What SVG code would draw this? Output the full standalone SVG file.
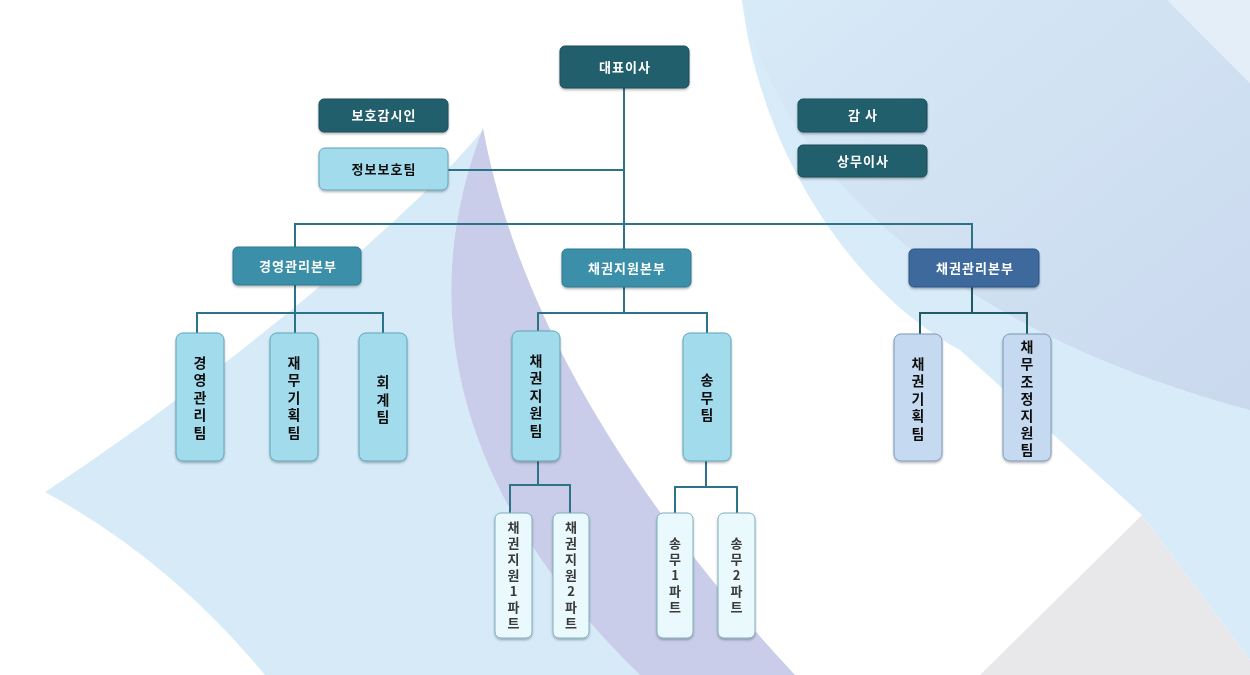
<svg xmlns="http://www.w3.org/2000/svg" width="1250" height="675" viewBox="0 0 1250 675">
  <defs>
    <linearGradient id="gS1" x1="0" y1="0" x2="1" y2="1">
      <stop offset="0" stop-color="#d7eaf7"/>
      <stop offset="1" stop-color="#cad8ee"/>
    </linearGradient>
    <filter id="sh" x="-20%" y="-20%" width="140%" height="140%">
      <feDropShadow dx="0" dy="1.5" stdDeviation="1" flood-color="#000" flood-opacity="0.3"/>
    </filter>
  </defs>
  <style>
    .dark{fill:#245e6c;stroke:#1c4d59;stroke-width:1}
    .mid{fill:#3a8fa8;stroke:#2e7890;stroke-width:1}
    .blue{fill:#3d699c;stroke:#2f5684;stroke-width:1}
    .lt{fill:#a1dbec;stroke:#5fa5b9;stroke-width:1}
    .per{fill:#c5d9f0;stroke:#7c98b5;stroke-width:1}
    .pt{fill:#e9f9fd;stroke:#7eaebe;stroke-width:1}
    .wt{font-family:"Noto Sans CJK KR","Noto Sans",sans-serif;font-size:13px;font-weight:bold;fill:#ffffff;text-anchor:middle;letter-spacing:1px}
    .bt{font-family:"Noto Sans CJK KR","Noto Sans",sans-serif;font-size:13px;font-weight:bold;fill:#111111;text-anchor:middle;letter-spacing:1px}
    .vt{font-family:"Noto Sans CJK KR","Noto Sans",sans-serif;font-size:14px;font-weight:bold;fill:#111111;text-anchor:middle;writing-mode:vertical-rl;text-orientation:upright;letter-spacing:3.5px}
    .vt7{letter-spacing:3.2px}
    .vp{font-family:"Noto Sans CJK KR","Noto Sans",sans-serif;font-size:13px;font-weight:bold;fill:#3a3a3a;text-anchor:middle;writing-mode:vertical-rl;text-orientation:upright;letter-spacing:3px}
    .ln{fill:none;stroke:#2b7387;stroke-width:2}
    .ln2{fill:none;stroke:#205a67;stroke-width:2}
  </style>

  <!-- background -->
  <rect x="0" y="0" width="1250" height="675" fill="#ffffff"/>
  <path d="M742,0 C760,150 850,290 960,350 L1142,515 L1250,660 L1250,0 Z" fill="#d7ecf8"/>
  <path d="M742,0 C780,170 950,330 1250,410 L1250,83 L1167,0 Z" fill="url(#gS1)"/>
  <path d="M1167,0 L1250,0 L1250,83 Z" fill="#e3eef9"/>
  <path d="M1142,515 L980,675 L1250,675 L1250,660 Z" fill="#e8e8eb"/>
  <path d="M483,130 C400,230 200,390 45,492 Q170,560 265,675 L640,675 C440,480 420,290 483,128 Z" fill="#d6eaf8"/>
  <path d="M483,128 C420,290 440,480 640,675 L795,675 C650,520 520,330 483,128 Z" fill="#c9cde9"/>

  <!-- connectors -->
  <g id="connectors">
    <path class="ln" d="M624,88 V224"/>
    <path class="ln" d="M448,170 H624"/>
    <path class="ln" d="M295,224 H972"/>
    <path class="ln" d="M295,223 V247"/>
    <path class="ln" d="M624,223 V249"/>
    <path class="ln" d="M972,223 V249"/>
    <path class="ln" d="M295,285 V333"/>
    <path class="ln" d="M197,334 V313 H383 V334"/>
    <path class="ln" d="M624,287 V313"/>
    <path class="ln" d="M538,332 V313 H707 V334"/>
    <path class="ln2" d="M972,287 V313"/>
    <path class="ln2" d="M920,335 V313 H1027 V335"/>
    <path class="ln" d="M538,461 V485"/>
    <path class="ln" d="M510,514 V485 H570 V514"/>
    <path class="ln" d="M706,461 V487"/>
    <path class="ln" d="M675,514 V487 H737 V514"/>
  </g>

  <!-- nodes -->
  <g id="n-ceo" filter="url(#sh)">
    <rect class="dark" x="560" y="46" width="129" height="42" rx="5"/>
    <text class="wt" x="625" y="72">대표이사</text>
  </g>
  <g id="n-guard" filter="url(#sh)">
    <rect class="dark" x="319" y="99" width="129" height="33" rx="5"/>
    <text class="wt" x="384" y="120">보호감시인</text>
  </g>
  <g id="n-privacy" filter="url(#sh)">
    <rect class="lt" x="319" y="148" width="129" height="42" rx="6"/>
    <text class="bt" x="384" y="174">정보보호팀</text>
  </g>
  <g id="n-audit" filter="url(#sh)">
    <rect class="dark" x="798" y="99" width="129" height="33" rx="5"/>
    <text class="wt" x="863" y="120">감 사</text>
  </g>
  <g id="n-exec" filter="url(#sh)">
    <rect class="dark" x="798" y="145" width="129" height="32" rx="5"/>
    <text class="wt" x="863" y="166">상무이사</text>
  </g>

  <g id="n-mgmt" filter="url(#sh)">
    <rect class="mid" x="233" y="247" width="128" height="38" rx="5"/>
    <text class="wt" x="298" y="271">경영관리본부</text>
  </g>
  <g id="n-support" filter="url(#sh)">
    <rect class="mid" x="562" y="249" width="129" height="38" rx="5"/>
    <text class="wt" x="627" y="273">채권지원본부</text>
  </g>
  <g id="n-collect" filter="url(#sh)">
    <rect class="blue" x="909" y="249" width="130" height="38" rx="5"/>
    <text class="wt" x="975" y="273">채권관리본부</text>
  </g>

  <g id="n-t1" filter="url(#sh)">
    <rect class="lt" x="176" y="333" width="48" height="128" rx="7"/>
    <text class="vt" x="200" y="399">경영관리팀</text>
  </g>
  <g id="n-t2" filter="url(#sh)">
    <rect class="lt" x="270" y="333" width="48" height="128" rx="7"/>
    <text class="vt" x="294" y="399">재무기획팀</text>
  </g>
  <g id="n-t3" filter="url(#sh)">
    <rect class="lt" x="359" y="333" width="48" height="128" rx="7"/>
    <text class="vt" x="383" y="401">회계팀</text>
  </g>
  <g id="n-t4" filter="url(#sh)">
    <rect class="lt" x="512" y="331" width="48" height="130" rx="7"/>
    <text class="vt" x="536" y="397">채권지원팀</text>
  </g>
  <g id="n-t5" filter="url(#sh)">
    <rect class="lt" x="683" y="333" width="48" height="128" rx="7"/>
    <text class="vt" x="707" y="399">송무팀</text>
  </g>
  <g id="n-t6" filter="url(#sh)">
    <rect class="per" x="894" y="334" width="48" height="127" rx="7"/>
    <text class="vt" x="918" y="400">채권기획팀</text>
  </g>
  <g id="n-t7" filter="url(#sh)">
    <rect class="per" x="1003" y="334" width="48" height="127" rx="7"/>
    <text class="vt vt7" x="1027" y="400">채무조정지원팀</text>
  </g>

  <g id="n-p1" filter="url(#sh)">
    <rect class="pt" x="495" y="513" width="37" height="125" rx="6"/>
    <text class="vp" x="513.5" y="577">채권지원1파트</text>
  </g>
  <g id="n-p2" filter="url(#sh)">
    <rect class="pt" x="553" y="513" width="36" height="125" rx="6"/>
    <text class="vp" x="571" y="577">채권지원2파트</text>
  </g>
  <g id="n-p3" filter="url(#sh)">
    <rect class="pt" x="657" y="513" width="36" height="125" rx="6"/>
    <text class="vp" x="675" y="577">송무1파트</text>
  </g>
  <g id="n-p4" filter="url(#sh)">
    <rect class="pt" x="718" y="513" width="37" height="125" rx="6"/>
    <text class="vp" x="736.5" y="577">송무2파트</text>
  </g>
</svg>
